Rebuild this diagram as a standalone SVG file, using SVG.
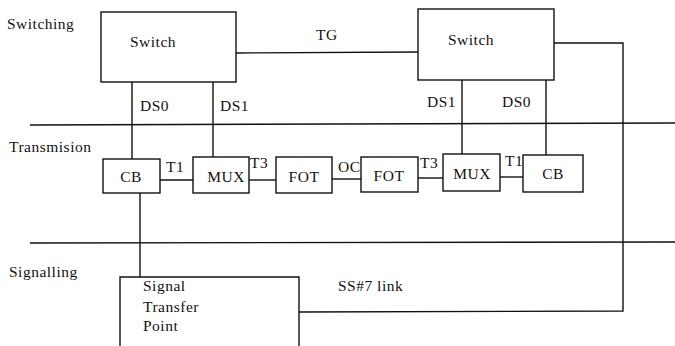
<svg xmlns="http://www.w3.org/2000/svg" width="675" height="346" viewBox="0 0 675 346">
<style>
.box{fill:#fff;stroke:#111;stroke-width:1.4}
.ln{fill:none;stroke:#111;stroke-width:1.4}
text{font-family:"Liberation Serif","Times New Roman",serif;font-size:15.5px;letter-spacing:0.5px;fill:#111}
.c{text-anchor:middle}
</style>
<rect width="675" height="346" fill="#fff"/>
<g id="layer-labels">
<text x="7" y="29">Switching</text>
<text x="9" y="152">Transmision</text>
<text x="9" y="277">Signalling</text>
</g>
<g id="connectors">
<path class="ln" d="M30 125 L675 123"/>
<path class="ln" d="M30 243 L675 242"/>
<path class="ln" d="M236 53 L418 52"/>
<path class="ln" d="M554 43 L623 43 L623 311 L299 312"/>
<path class="ln" d="M132 82 L132 159"/>
<path class="ln" d="M213 82 L213 157"/>
<path class="ln" d="M462 80 L462 154"/>
<path class="ln" d="M546 80 L546 155"/>
<path class="ln" d="M140 193 L140 277"/>
<path class="ln" d="M160 180 L193 180"/>
<path class="ln" d="M249 180 L276 180"/>
<path class="ln" d="M332 179 L361 179"/>
<path class="ln" d="M418 178 L443 178"/>
<path class="ln" d="M500 177 L523 177"/>
<text x="316" y="40">TG</text>
<text x="140" y="111">DS0</text>
<text x="220" y="111">DS1</text>
<text x="427" y="107">DS1</text>
<text x="502" y="107">DS0</text>
<text x="166" y="172">T1</text>
<text x="250" y="168">T3</text>
<text x="338" y="172">OC</text>
<text x="420" y="168">T3</text>
<text x="505" y="166">T1</text>
<text x="338" y="291">SS#7 link</text>
</g>
<g id="switch-left">
<rect class="box" x="101" y="12" width="135" height="70"/>
<text x="130" y="47">Switch</text>
</g>
<g id="switch-right">
<rect class="box" x="418" y="9" width="136" height="71"/>
<text x="448" y="45">Switch</text>
</g>
<g id="cb-left">
<rect class="box" x="103" y="159" width="57" height="34"/>
<text class="c" x="131" y="182">CB</text>
</g>
<g id="mux-left">
<rect class="box" x="193" y="157" width="56" height="36"/>
<text class="c" x="226" y="182">MUX</text>
</g>
<g id="fot-left">
<rect class="box" x="276" y="157" width="56" height="36"/>
<text class="c" x="304" y="182">FOT</text>
</g>
<g id="fot-right">
<rect class="box" x="361" y="157" width="57" height="35"/>
<text class="c" x="389" y="181">FOT</text>
</g>
<g id="mux-right">
<rect class="box" x="443" y="154" width="57" height="37"/>
<text class="c" x="472" y="179">MUX</text>
</g>
<g id="cb-right">
<rect class="box" x="523" y="155" width="60" height="37"/>
<text class="c" x="553" y="179">CB</text>
</g>
<g id="stp">
<path class="box" d="M120 347 L120 277 L299 277 L299 347"/>
<text x="143" y="291">Signal</text>
<text x="143" y="312">Transfer</text>
<text x="143" y="331">Point</text>
</g>
</svg>
